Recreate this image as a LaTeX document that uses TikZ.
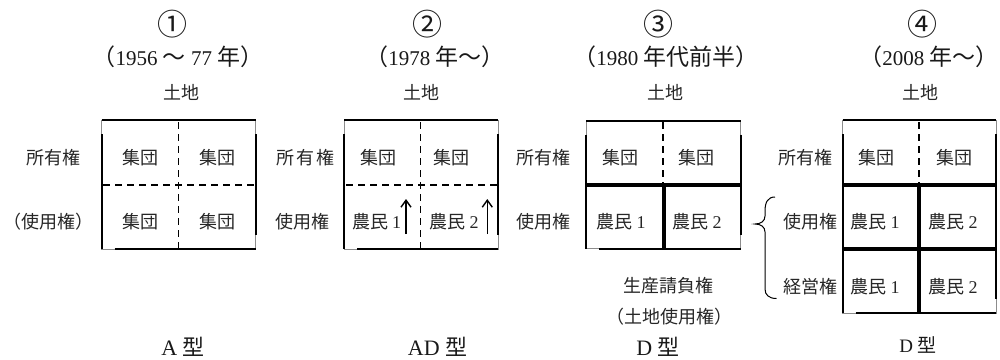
\documentclass[tikz,border=0pt]{standalone}
\usepackage{fontspec}
\setmainfont{Liberation Serif}
\newfontfamily\cjk{Noto Sans CJK JP}
\usetikzlibrary{arrows.meta}
\newcommand{\lat}[1]{{\rmfamily #1}}
\newcommand{\jp}[1]{{\cjk #1}}
\newcommand{\jt}[1]{{\cjk\fontsize{23}{26}\selectfont #1}}
\tikzset{
  lab/.style={anchor=base, inner sep=0pt, text=black!85, font=\fontsize{18}{20}\selectfont\cjk},
  ttl/.style={anchor=base, inner sep=0pt, text=black!90, font=\fontsize{21}{24}\selectfont},
  circ/.style={anchor=base, inner sep=0pt, text=black!90, font=\fontsize{30}{32}\selectfont\cjk},
  typ/.style={anchor=base, inner sep=0pt, text=black!90, font=\fontsize{22}{24}\selectfont},
  thinframe/.style={draw=black!45, line width=0.7pt},
  edgeline/.style={line width=2pt, line cap=butt},
  dashline/.style={line width=1.5pt, dash pattern=on 7pt off 5pt},
  thicksep/.style={line width=4pt},
  uparrow/.style={line width=1.6pt, -{Straight Barb[length=7pt,width=10pt,line width=1.4pt]}},
}
\newcommand{\gridframe}[4]{%
  \draw[thinframe] (#1,#2) rectangle (#3,#4);
  \draw[edgeline] (#1,#2) -- (#3,#2);
  \draw[edgeline] (#1+13,#4) -- (#3,#4);
  \draw[edgeline] (#1,#2+14) -- (#1,#4);
  \draw[edgeline] (#3,#2+14) -- (#3,#4-14);
}
\begin{document}
\begin{tikzpicture}[x=1pt,y=-1pt]
\useasboundingbox (0,0) rectangle (1000,359);

% ---------- headings ----------
\node[circ] (n1) at (172,35) {①};
\node[ttl] (t1) at (178,65) {\jt{（}1956 \jt{～} 77 \jt{年）}};
\node[lab] (l1) at (181.7,99) {土地};
\node[circ] (n2) at (427,35) {②};
\node[ttl] (t2) at (435,65) {\jt{（}1978 \jt{年～）}};
\node[lab] (l2) at (421.7,99) {土地};
\node[circ] (n3) at (658,35) {③};
\node[ttl] (t3) at (666,65) {\jt{（}1980 \jt{年代前半）}};
\node[lab] (l3) at (665,99) {土地};
\node[circ] (n4) at (922,35) {④};
\node[ttl] (t4) at (929,65) {\jt{（}2008 \jt{年～）}};
\node[lab] (l4) at (920,99) {土地};

% ---------- box 1 ----------
\gridframe{101.7}{120}{255.7}{249.3}
\draw[dashline] (178.3,122) -- (178.3,249.3);
\draw[dashline] (103,185) -- (255.7,185);
\node[lab] (r11) at (53.5,164) {所有権};
\node[lab] (r12) at (48,228) {（使用権）};
\node[lab] (c111) at (140,164) {集団};
\node[lab] (c112) at (217,164) {集団};
\node[lab] (c121) at (140,228) {集団};
\node[lab] (c122) at (217,228) {集団};
\node[typ] (y1) at (183,355) {A \jp{型}};

% ---------- box 2 ----------
\gridframe{344.3}{120}{498}{249.3}
\draw[dashline] (420.7,122) -- (420.7,249.3);
\draw[dashline] (346,185) -- (498,185);
\node[lab] (r21) at (305.5,164) {所\hspace{2.5pt}有\hspace{2.5pt}権};
\node[lab] (r22) at (302.5,228) {使用権};
\node[lab] (c211) at (378,164) {集団};
\node[lab] (c212) at (451.7,164) {集団};
\node[lab] (c221) at (376.7,228) {農民\hspace{4pt}\lat{1}};
\node[lab] (c222) at (454,228) {農民\hspace{4pt}\lat{2}};
\coordinate (a1s) at (406,234);
\coordinate (a1e) at (406,199);
\coordinate (a2s) at (487.3,234);
\coordinate (a2e) at (487.3,199);
\draw[uparrow] (a1s) -- (a1e);
\draw[uparrow] (a2s) -- (a2e);
\node[typ] (y2) at (437.5,355) {AD \jp{型}};

% ---------- box 3 ----------
\gridframe{586}{120.5}{740.5}{248.5}
\draw[dashline] (663,122) -- (663,185);
\draw[thicksep] (586,185) -- (740.5,185);
\draw[thicksep] (664,185) -- (664,248.5);
\node[lab] (r31) at (543,164) {所有権};
\node[lab] (r32) at (543,228) {使用権};
\node[lab] (c311) at (620,164) {集団};
\node[lab] (c312) at (696.7,164) {集団};
\node[lab] (c321) at (621,228) {農民\hspace{4pt}\lat{1}};
\node[lab] (c322) at (697,228) {農民\hspace{4pt}\lat{2}};
\node[lab] (s31) at (668,292) {生産請負権};
\node[lab] (s32) at (669,323) {（土地使用権）};
\node[typ] (y3) at (658,355) {D \jp{型}};

% ---------- box 4 ----------
\gridframe{842.7}{120}{996}{313.3}
\draw[dashline] (919,122) -- (919,185);
\draw[thicksep] (842.7,185) -- (996,185);
\draw[thicksep] (842.7,249.3) -- (996,249.3);
\draw[thicksep] (919,185) -- (919,313.3);
\node[lab] (r41) at (805,164) {所有権};
\node[lab] (r42) at (810,228) {使用権};
\node[lab] (r43) at (810,293) {経営権};
\node[lab] (c411) at (876.7,164) {集団};
\node[lab] (c412) at (954,164) {集団};
\node[lab] (c421) at (875,228) {農民\hspace{4pt}\lat{1}};
\node[lab] (c422) at (953,228) {農民\hspace{4pt}\lat{2}};
\node[lab] (c431) at (875,293) {農民\hspace{4pt}\lat{1}};
\node[lab] (c432) at (953,293) {農民\hspace{4pt}\lat{2}};
\draw[line width=1pt] (775,197) .. controls (768,197) and (765,202) .. (765,211)
  -- (765,216) .. controls (765,221) and (761,224) .. (755,224)
  .. controls (761,224) and (765,227) .. (765,232)
  -- (765,289) .. controls (765,295) and (769,298.5) .. (776.5,298.5);
\node[typ, font=\fontsize{19}{22}\selectfont] (y4) at (918,352) {D \jp{型}};
\end{tikzpicture}
\end{document}
